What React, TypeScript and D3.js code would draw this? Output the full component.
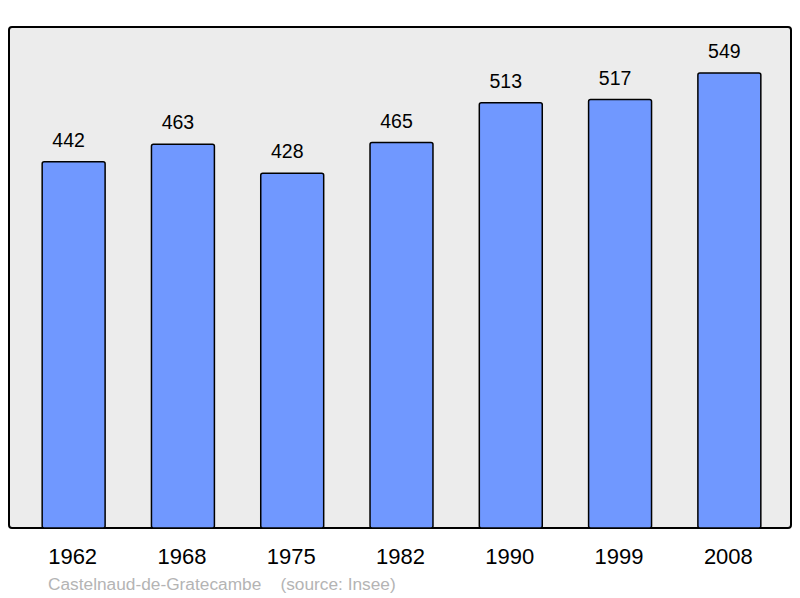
import React from "react";
import * as d3 from "d3";

const years = ["1962", "1968", "1975", "1982", "1990", "1999", "2008"];
const population = [442, 463, 428, 465, 513, 517, 549];
const sourceText = "Castelnaud-de-Gratecambe    (source: Insee)";

export default function App() {
  const W = 800, H = 598;
  const panel = { x: 9, y: 27, w: 782, h: 501 };
  const x = d3.scaleBand<string>().domain(years).range([19, 784]).paddingInner(0.424).paddingOuter(0.212);
  const y = d3.scaleLinear().domain([0, 604.5]).range([528, 27]);
  const font = "'Liberation Sans', Arial, sans-serif";
  return (
    <svg width={W} height={H} style={{ position: "absolute", left: 0, top: 0 }}>
      <rect x={panel.x} y={panel.y} width={panel.w} height={panel.h} rx={3} fill="#ececec" stroke="#000" strokeWidth={2} />
      {years.map((yr, i) => {
        const v = population[i];
        const bx = x(yr)!;
        return (
          <g key={yr}>
            <rect x={bx} y={y(v)} width={x.bandwidth()} height={y(0) - y(v)} rx={2} fill="#7098ff" stroke="#000" strokeWidth={1.5} />
            <text x={bx + x.bandwidth() / 2 - 5} y={y(v) - 15} textAnchor="middle" fontFamily={font} fontSize={19.5} fill="#000">{v}</text>
            <text x={bx + x.bandwidth() / 2 - 1} y={564} textAnchor="middle" fontFamily={font} fontSize={22} fill="#000">{yr}</text>
          </g>
        );
      })}
      <text x={48} y={590} fontFamily={font} fontSize={17.3} fill="#b4b4b4" style={{ whiteSpace: "pre" }}>{sourceText}</text>
    </svg>
  );
}
